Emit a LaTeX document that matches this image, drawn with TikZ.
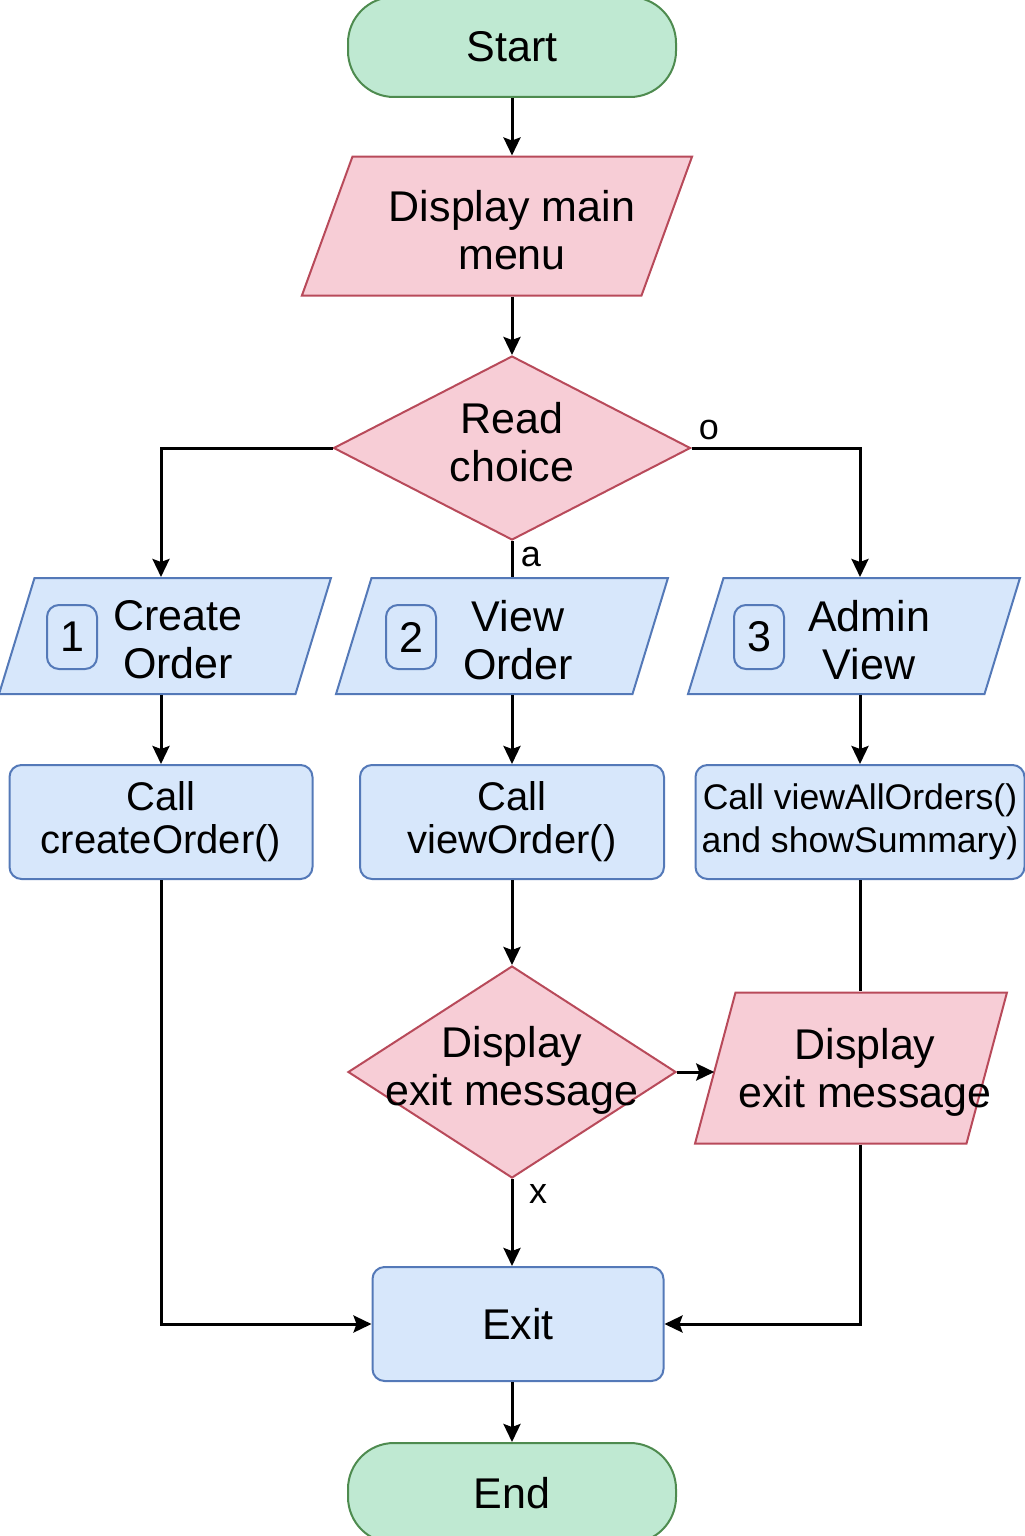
\documentclass[tikz,border=0pt]{standalone}
\usepackage{fontspec}
\setmainfont{Liberation Sans}
\usetikzlibrary{shapes.geometric,arrows.meta}

\newlength{\du}
\setlength{\du}{0.5pt}

\definecolor{termfill}{rgb}{0.749, 0.914, 0.824}
\definecolor{termline}{rgb}{0.306, 0.545, 0.310}
\definecolor{pinkfill}{rgb}{0.969, 0.804, 0.839}
\definecolor{pinkline}{rgb}{0.722, 0.290, 0.353}
\definecolor{bluefill}{rgb}{0.843, 0.906, 0.984}
\definecolor{blueline}{rgb}{0.329, 0.475, 0.722}

\newcommand{\bigtxt}{\fontsize{21.5}{24}\selectfont}
\newcommand{\calltxt}{\fontsize{20}{21.5}\selectfont}
\newcommand{\zerowd}[1]{\makebox[0pt]{\begin{tabular}{@{}c@{}}#1\end{tabular}}}

\tikzset{
  terminal/.style={draw=termline, fill=termfill, line width=1pt, rounded corners=46\du,
    minimum width=328\du, minimum height=100\du, inner sep=0pt, font=\bigtxt},
  iobox/.style={shape=trapezium, draw=pinkline, fill=pinkfill, line width=1pt},
  rowbox/.style={shape=trapezium, trapezium left angle=73, trapezium right angle=107,
    draw=blueline, fill=bluefill, line width=1pt, inner xsep=130.5\du, inner ysep=58\du},
  decision/.style={diamond, draw=pinkline, fill=pinkfill, line width=1pt,
    inner sep=0pt, align=center, font=\bigtxt},
  callbox/.style={draw=blueline, fill=bluefill, line width=1pt, rounded corners=6pt,
    minimum height=114\du, inner sep=0pt, align=center, font=\calltxt},
  badge/.style={draw=blueline, fill=bluefill, line width=1pt, rounded corners=6pt,
    minimum width=50\du, minimum height=64\du, inner sep=0pt, font=\bigtxt},
  txt/.style={align=center, inner sep=0pt, font=\bigtxt},
  lbl/.style={inner sep=0pt, font=\fontsize{18}{20}\selectfont},
  arr/.style={line width=1.5pt, -{Stealth[length=9pt,width=8.5pt,inset=1.5pt]}},
  ln/.style={line width=1.5pt}
}

\begin{document}
\begin{tikzpicture}
\pgftransformyscale{-1.000000}
\useasboundingbox (0\du,0\du) rectangle (1024\du,1536\du);

% terminals
\node[terminal] (start) at (512\du,47\du) {Start};
\node[terminal] (end) at (512\du,1493\du) {End};

% menu and choice
\node[iobox, trapezium left angle=70, trapezium right angle=110,
  inner xsep=144.5\du, inner ysep=69.5\du] (menu) at (497\du,226\du) {};
\node[txt] (menutxt) at (512\du,230\du) {Display main\\menu};
\node[decision, minimum width=357\du, minimum height=184\du] (choice) at (512\du,448\du) {\zerowd{Read\\choice}};

% options row
\node[rowbox] (create) at (165\du,636\du) {};
\node[rowbox] (view) at (502\du,636\du) {};
\node[rowbox] (admin) at (854\du,636\du) {};
\node[badge] (b1) at (72\du,637\du) {1};
\node[badge] (b2) at (411\du,637\du) {2};
\node[badge] (b3) at (759\du,637\du) {3};
\node[txt] (createtxt) at (178\du,640\du) {Create\\Order};
\node[txt] (viewtxt) at (518\du,640\du) {View\\Order};
\node[txt] (admintxt) at (869\du,640\du) {Admin\\View};

% calls
\node[callbox, minimum width=303\du] (createcall) at (161\du,822\du) {Call\\createOrder()};
\node[callbox, minimum width=304\du] (viewcall) at (512\du,822\du) {Call\\viewOrder()};
\node[callbox, minimum width=329\du, font=\fontsize{17.8}{21.5}\selectfont] (admincall) at (860\du,822\du) {Call viewAllOrders()\\and showSummary)};

% exit messages
\node[decision, minimum width=328\du, minimum height=212\du] (quit) at (512\du,1072\du) {\zerowd{Display\\exit message}};
\node[iobox, trapezium left angle=75, trapezium right angle=105,
  inner xsep=115.5\du, inner ysep=75.5\du] (exitmsg) at (851\du,1068\du) {};
\node[txt] (exitmsgtxt) at (865\du,1072\du) {Display\\exit message};

\node[callbox, minimum width=291\du, font=\bigtxt] (exit) at (518\du,1324\du) {Exit};

% connectors
\draw[arr] (start.south) -- (start.south |- menu.north);
\draw[arr] (choice.north |- menu.south) -- (choice.north);
\draw[arr] (choice.west) -| (createcall.north |- create.north);
\draw[ln] (choice.south) -- (choice.south |- view.north);
\draw[arr] (choice.east) -| (admincall.north |- admin.north);
\draw[arr] (createcall.north |- create.south) -- (createcall.north);
\draw[arr] (viewcall.north |- view.south) -- (viewcall.north);
\draw[arr] (admincall.north |- admin.south) -- (admincall.north);
\draw[arr] (createcall.south) |- (exit.west);
\draw[arr] (viewcall.south) -- (quit.north);
\draw[arr] (quit.east) -- (quit.east -| exitmsg.west);
\draw[ln] (admincall.south) -- (admincall.south |- exitmsg.north);
\draw[arr] (admincall.south |- exitmsg.south) |- (exit.east);
\draw[arr] (quit.south) -- (quit.south |- exit.north);
\draw[arr] (end.north |- exit.south) -- (end.north);

% labels
\node[lbl] (lo) at (709\du,430\du) {o};
\node[lbl] (la) at (531\du,557\du) {a};
\node[lbl] (lx) at (538\du,1194\du) {x};
\end{tikzpicture}
\end{document}
